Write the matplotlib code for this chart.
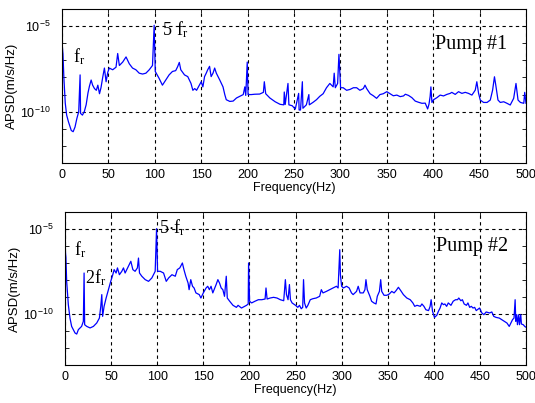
import numpy as np
import matplotlib
matplotlib.use('Agg')
from matplotlib import pyplot as plt
from matplotlib.ticker import FixedLocator, NullFormatter

# spectrum of pump 1: frequency (Hz) and log10 of APSD
freq1 = [0, 1, 2, 3.5, 5, 7, 10, 12, 14, 16, 18, 19.5, 20, 22, 24, 26, 28, 29.6, 31.4, 33, 35, 37,
         38.6, 40.4, 42, 44, 45.7, 47.5, 49.3, 51, 54.6, 58.2, 60, 61.8, 65.4, 69, 72.5, 76, 79.6,
         83.2, 86.8, 90.4, 94, 97.5, 99.3, 100.5, 104.6, 108.2, 111.8, 115.4, 119, 122.5, 124.6,
         126.4, 128, 132, 135.5, 139, 141, 143, 145, 148, 150, 151.8, 153.6, 155.4, 157, 159, 160.7,
         162.7, 164.5, 166.3, 170, 173.5, 175.4, 177, 180.8, 184.4, 188, 191.7, 195.3, 197, 198,
         199.6, 200.5, 204, 207.6, 213, 217, 218, 219.5, 224, 229.7, 235, 239, 239.5, 240.5, 243.5,
         244.5, 248, 251.4, 255, 255.5, 257, 259, 259.6, 261.5, 263.3, 266, 266.5, 270.6, 274.2,
         277.8, 281.4, 285, 288.6, 292.2, 293.3, 294.5, 297, 298.4, 299.5, 300.2, 303, 306.7, 310.3,
         314, 317.5, 321, 324.7, 326.5, 328.3, 332, 335.5, 339, 342.6, 346.2, 350, 353.5, 357,
         360.8, 364.4, 368, 370, 373.4, 377, 380.6, 384.2, 387.8, 391.4, 393, 394, 395.5, 396.7,
         397.5, 398.6, 400.4, 404, 407.5, 411.1, 414.7, 418.3, 420, 423.7, 427.3, 430.9, 434.5, 438,
         441.7, 445.3, 447, 448.9, 450.7, 454.3, 458, 461.5, 464, 466, 467.4, 469.8, 472.3, 476,
         479.5, 483, 486.7, 489.2, 491.4, 494, 497.6, 498.6, 500]
logp1 = [-6.0, -6.6, -8.0, -9.5, -10.2, -10.6, -11.1, -11.17, -10.9, -10.4, -10.0, -7.85, -10.1,
         -10.2, -10.0, -9.6, -8.9, -8.5, -8.15, -8.45, -8.65, -8.75, -8.45, -8.95, -8.6, -7.95,
         -7.45, -8.25, -7.7, -7.45, -7.55, -7.4, -6.6, -7.3, -7.1, -6.8, -7.2, -7.45, -7.55, -7.75,
         -7.8, -7.75, -7.55, -7.3, -4.95, -7.65, -8.05, -8.45, -8.15, -7.85, -7.65, -7.6, -7.37,
         -7.12, -7.55, -7.85, -7.95, -8.35, -8.75, -8.65, -8.75, -8.45, -8.25, -8.55, -7.95, -7.75,
         -7.55, -7.35, -7.95, -7.75, -7.45, -7.75, -8.15, -8.55, -9.0, -9.3, -9.4, -9.38, -9.2,
         -9.1, -9.0, -8.55, -9.05, -7.1, -9.0, -9.0, -8.98, -8.97, -8.87, -8.25, -8.95, -9.2, -9.42,
         -9.57, -9.6, -8.85, -9.58, -8.35, -9.6, -9.65, -9.85, -8.93, -9.9, -9.9, -8.25, -9.8, -9.7,
         -9.6, -9.0, -9.6, -9.45, -9.3, -9.1, -8.95, -8.6, -8.35, -8.55, -7.75, -8.6, -8.35, -6.65,
         -7.8, -8.6, -8.6, -8.75, -8.7, -8.6, -8.6, -8.75, -8.65, -8.45, -8.65, -8.95, -9.07, -9.22,
         -9.0, -8.95, -8.83, -8.95, -9.07, -9.03, -9.12, -9.08, -8.98, -9.05, -9.18, -9.38, -9.45,
         -9.51, -9.5, -9.71, -9.84, -9.55, -9.1, -8.55, -9.46, -9.3, -9.18, -9.03, -9.08, -8.99,
         -8.93, -8.87, -8.99, -8.83, -8.93, -8.87, -8.93, -9.03, -8.74, -8.25, -8.93, -9.32, -9.46,
         -9.46, -9.32, -8.74, -7.96, -8.44, -9.32, -9.46, -9.42, -9.51, -9.61, -9.22, -8.35, -9.32,
         -9.46, -9.51, -8.87, -9.51]

# spectrum of pump 2
freq2 = [0, 1, 1.8, 3.6, 5.4, 7.2, 10.9, 12.7, 14.5, 16.3, 18, 19.9, 20.7, 21.3, 23.6, 27.2, 30.8,
         34.4, 37.3, 38.8, 39.9, 40.8, 42.4, 44.6, 47.1, 49.6, 51.8, 53.3, 55.4, 56.9, 59, 61.6,
         63.4, 65.2, 67, 68.8, 71.4, 73.6, 76, 78.5, 79.7, 80.8, 83.3, 87, 90.6, 94.2, 97.8, 99.3,
         100.4, 103.3, 106.9, 109.8, 112.4, 116, 119.6, 121.8, 124.5, 127.3, 129, 131, 133.5, 134.6,
         136.4, 138.3, 140, 142, 145.6, 147.4, 150, 153, 154.8, 156.6, 158.4, 160.3, 163.9, 165.8,
         167.6, 169.4, 171.2, 173, 174.9, 176, 178.6, 182.2, 185.9, 187.7, 191.4, 195, 196.9, 198.7,
         199.1, 200.2, 202.4, 206, 209.7, 213.4, 217, 218, 219.2, 222.5, 226.2, 229.9, 233.5, 237.2,
         239, 240.2, 241.9, 243.4, 244.5, 246.3, 250, 252.5, 254.3, 256.2, 257.8, 258.7, 259.8,
         261.6, 263.4, 266, 268.9, 272.5, 276.2, 278, 279.8, 283.5, 287, 290.7, 294.4, 296.2, 298,
         298.7, 300, 302, 305.3, 308.2, 310.7, 312.5, 314.4, 316.2, 318, 320, 323.5, 325.3, 326.4,
         327.8, 330.7, 332.5, 335, 337.3, 338.7, 341, 342.4, 343.5, 346, 349, 351.8, 354.4, 356.9,
         359, 361.6, 364.2, 367, 370.7, 374.4, 377.3, 379.3, 381.8, 385.4, 387.1, 389.3, 391.4,
         394.3, 396, 397.1, 398.6, 400.7, 403.2, 405, 406.8, 408.6, 410.4, 412, 413.9, 415.7, 418.6,
         421, 423.6, 425.7, 427.1, 429.3, 431, 432.9, 435.4, 437, 438.9, 440.7, 442.5, 444.3, 446,
         449.6, 452.1, 454.3, 456.8, 460.4, 462.9, 465, 467.5, 471, 473.6, 476.4, 479.3, 481.8,
         483.6, 485.4, 487, 488.2, 488.9, 490, 490.7, 492.1, 492.9, 494.3, 495, 497, 498.6, 500]
logp2 = [-6.02, -6.7, -8.08, -9.45, -10.24, -10.73, -11.12, -11.18, -10.92, -10.82, -10.73,
         -10.43, -7.59, -10.63, -10.73, -10.82, -10.73, -10.53, -10.24, -9.55, -8.86, -10.14,
         -9.55, -9.06, -8.57, -8.08, -7.69, -7.39, -7.59, -7.29, -7.69, -7.49, -7.29, -7.59, -7.39,
         -7.2, -6.9, -7.39, -7.49, -7.29, -6.71, -7.59, -7.78, -7.98, -8.08, -7.88, -7.49, -4.98,
         -7.49, -7.49, -7.59, -8.08, -7.88, -7.69, -7.78, -7.39, -7.29, -7.0, -7.39, -7.78, -8.18,
         -8.57, -7.98, -8.37, -8.47, -8.76, -8.86, -9.06, -8.76, -8.47, -8.37, -8.57, -8.37, -8.76,
         -8.27, -7.98, -8.18, -8.47, -8.57, -8.96, -7.78, -9.06, -9.25, -9.49, -9.61, -9.49, -9.65,
         -9.55, -9.49, -9.41, -7.0, -9.25, -9.35, -9.25, -9.16, -9.16, -9.12, -8.47, -9.12, -9.06,
         -9.02, -9.06, -9.16, -9.22, -7.98, -8.86, -9.16, -8.27, -9.16, -9.35, -9.49, -9.61, -9.49,
         -9.69, -9.61, -7.98, -9.35, -9.65, -9.49, -9.16, -9.1, -9.06, -8.96, -8.57, -8.76, -8.67,
         -8.57, -8.47, -8.37, -8.47, -6.22, -7.69, -8.37, -8.47, -8.37, -8.47, -8.76, -8.86, -8.76,
         -8.67, -8.37, -8.76, -8.76, -8.57, -7.98, -8.57, -8.96, -9.25, -9.35, -9.41, -8.96, -8.67,
         -7.98, -8.67, -8.9, -8.9, -8.82, -8.67, -8.76, -8.63, -8.43, -8.63, -8.86, -9.06, -9.16,
         -9.35, -9.55, -9.49, -9.55, -9.41, -9.55, -9.75, -9.8, -9.55, -9.16, -9.84, -10.2, -10.08,
         -9.84, -9.65, -9.35, -9.45, -9.41, -9.55, -9.35, -9.49, -9.25, -9.16, -9.16, -9.06, -9.22,
         -9.16, -9.41, -9.49, -9.35, -9.61, -9.55, -9.65, -9.61, -9.8, -9.65, -9.94, -10.04, -9.88,
         -9.94, -9.88, -10.14, -10.2, -10.24, -10.33, -10.43, -10.53, -10.73, -10.53, -10.33,
         -10.24, -9.16, -10.43, -10.04, -10.63, -10.04, -10.63, -10.04, -10.59, -10.63, -10.73,
         -10.78]

# annotations: (text, frequency, log10 value of baseline)
notes1 = [(r'$\mathregular{f_r}$', 11.7, -7.1), (r'$\mathregular{5\ f_r}$', 107.8, -5.54),
          ('Pump #1', 402, -6.31)]
notes2 = [(r'$\mathregular{f_r}$', 9.8, -6.53), (r'$\mathregular{2f_r}$', 21.7, -8.2),
          (r'$\mathregular{5{\cdot}f_r}$', 102.3, -5.25), ('Pump #2', 402, -6.28)]

xticks = [0, 50, 100, 150, 200, 250, 300, 350, 400, 450, 500]

plt.rcParams['font.family'] = ['Liberation Sans', 'DejaVu Sans']

fig = plt.figure(figsize=(5.35, 4.03), dpi=100)
ax1 = fig.add_axes([0.1159, 0.5955, 0.8673, 0.3821])
ax2 = fig.add_axes([0.1215, 0.0943, 0.8617, 0.3797])

for ax, f, lp, notes in [(ax1, freq1, logp1, notes1), (ax2, freq2, logp2, notes2)]:
    ax.plot(f, 10.0 ** np.array(lp), color='#0000ff', lw=0.9)
    ax.set_yscale('log')
    ax.set_xlim(0, 500)
    ax.set_ylim(1e-13, 1e-4)
    ax.set_xticks(xticks)
    ax.yaxis.set_major_locator(FixedLocator([1e-10, 1e-5]))
    ax.yaxis.set_minor_locator(FixedLocator([10.0 ** k for k in range(-13, -3)]))
    ax.yaxis.set_minor_formatter(NullFormatter())
    ax.set_yticklabels([r'$\mathregular{10^{-10}}$', r'$\mathregular{10^{-5}}$'])
    ax.grid(True, which='major', color='black', ls=(0, (3, 3)), lw=0.8)
    ax.tick_params(which='both', direction='in', top=True, right=True, labelsize=9,
                   length=3, width=0.6, pad=4)
    ax.tick_params(axis='y', which='major', pad=8)
    for s in ax.spines.values():
        s.set_linewidth(0.8)
    ax.set_xlabel('Frequency(Hz)', fontsize=9, labelpad=1)
    ax.set_ylabel('APSD(m/s/Hz)', fontsize=9.5, labelpad=2)
    for txt, x, y in notes:
        size = 14.5 if txt.startswith('Pump') else 13
        ax.text(x, 10.0 ** y, txt, fontsize=size, family='Liberation Serif',
                va='baseline', ha='left')

fig.savefig('out.png', dpi=100)
